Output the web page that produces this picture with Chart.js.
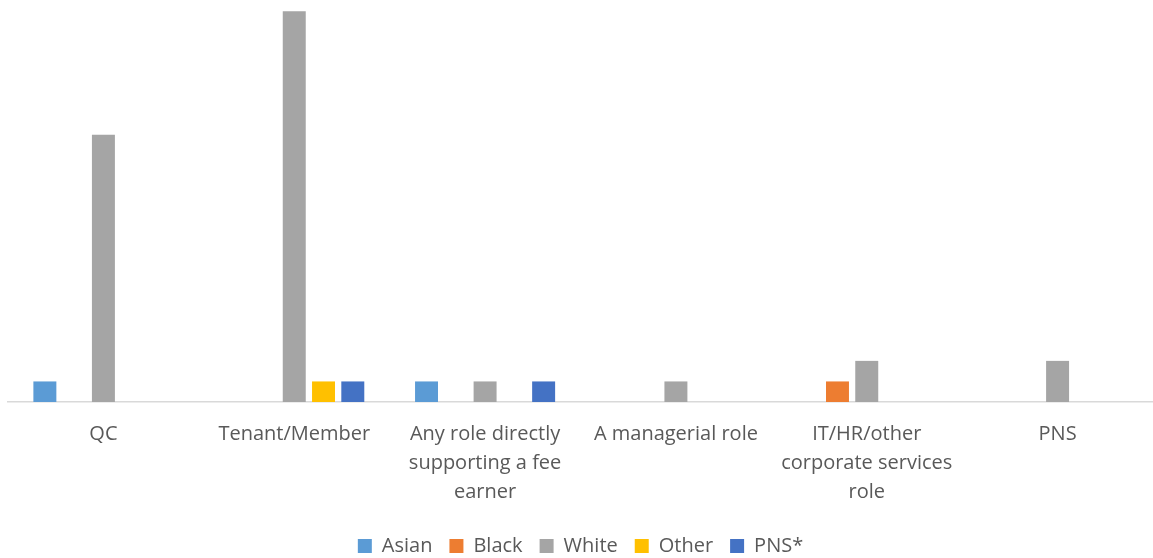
<!DOCTYPE html>
<html>
<head>
<meta charset="utf-8">
<script src="https://cdn.jsdelivr.net/npm/chart.js@4/dist/chart.umd.min.js"></script>
<style>
html,body{margin:0;padding:0;background:#fff;}
#wrap{width:1153px;height:558px;position:relative;}
</style>
</head>
<body>
<div id="wrap"><canvas id="c"></canvas></div>
<script>
const categories = [
  ["QC"],
  ["Tenant/Member"],
  ["Any role directly", "supporting a fee", "earner"],
  ["A managerial role"],
  ["IT/HR/other", "corporate services", "role"],
  ["PNS"]
];
const seriesNames = ["Asian", "Black", "White", "Other", "PNS*"];
const asian = [1, 0, 1, 0, 0, 0];
const black = [0, 0, 0, 0, 1, 0];
const white = [13, 19, 1, 1, 2, 2];
const other = [0, 1, 0, 0, 0, 0];
const pns = [0, 1, 1, 0, 0, 0];
const colors = ["#5B9BD5", "#ED7D31", "#A5A5A5", "#FFC000", "#4472C4"];
const values = [asian, black, white, other, pns];

const datasets = seriesNames.map((n, i) => ({
  label: n,
  data: values[i],
  backgroundColor: colors[i],
  borderWidth: 0,
  categoryPercentage: 0.767,
  barPercentage: 0.785
}));

new Chart(document.getElementById('c'), {
  type: 'bar',
  data: { labels: categories, datasets },
  options: {
    responsive: true,
    maintainAspectRatio: false,
    animation: false,
    layout: { padding: { top: 1, left: 8, right: 0, bottom: -8 } },
    plugins: {
      tooltip: { enabled: false },
      legend: {
        position: 'bottom',
        labels: {
          boxWidth: 14, boxHeight: 14,
          color: '#595959',
          font: { family: 'Open Sans', size: 20 },
          padding: 17
        }
      }
    },
    scales: {
      x: {
        grid: { display: false },
        border: { display: true, color: '#D9D9D9', width: 1.5 },
        ticks: {
          color: '#595959',
          font: { family: 'Open Sans', size: 20, lineHeight: 1.45 },
          padding: 10,
          maxRotation: 0, autoSkip: false
        },
        afterFit: (s) => { s.height = 117; }
      },
      y: {
        display: false,
        min: 0, max: 19.5,
        grid: { display: false }
      }
    }
  }
});
</script>
</body>
</html>
